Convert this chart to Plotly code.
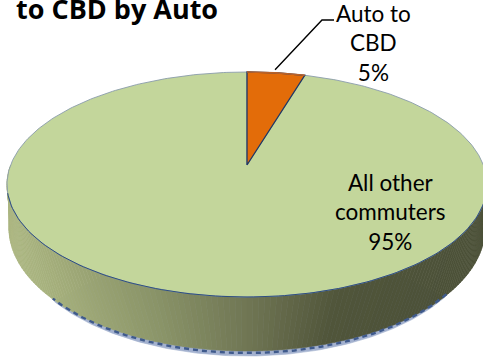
import math
import plotly.graph_objects as go

categories = ["Auto to<br>CBD", "All other<br>commuters"]
values = [4.6, 95.4]
slice_colors = ["#e36c09", "#c3d69b"]
title_text = "<b>to CBD by Auto</b>"

W, H = 483, 358
CX = 247
APEX_Y, FAR_Y, NEAR_Y = 165, 72, 297
HALF_W = 240
# projective map of the unit disc to the screen
c = (FAR_Y + NEAR_Y - 2 * APEX_Y) / (NEAR_Y - FAR_Y)
a = FAR_Y * (1 + c) - APEX_Y
d = HALF_W * math.sqrt(1 - c * c)


def project(theta):
    x, z = math.sin(theta), math.cos(theta)
    w = 1 + c * z
    return CX + d * x / w, (a * z + APEX_Y) / w


def wedge(start, end, n=180):
    pts = [(CX, APEX_Y)]
    for i in range(n + 1):
        pts.append(project(start + (end - start) * i / n))
    pts.append((CX, APEX_Y))
    return [p[0] for p in pts], [p[1] for p in pts]


def lerp_color(x):
    stops = [(5, (172, 183, 130)), (60, (160, 170, 120)), (150, (138, 148, 104)),
             (250, (111, 117, 83)), (340, (80, 85, 58)), (490, (75, 80, 56))]
    for (x0, c0), (x1, c1) in zip(stops, stops[1:]):
        if x <= x1:
            t = (x - x0) / (x1 - x0)
            rgb = [round(u + (v - u) * t) for u, v in zip(c0, c1)]
            return "rgb(%d,%d,%d)" % tuple(rgb)
    return "rgb(75,80,56)"


BOT_CY, BOT_RY = 228, 123


def bottom(theta, rx=HALF_W - 2, shift=0):
    return CX + rx * math.sin(theta), BOT_CY + shift - BOT_RY * math.cos(theta)


fig = go.Figure()


def add_poly(xs, ys, fill, line=None, width=0):
    fig.add_trace(go.Scatter(
        x=xs, y=ys, mode="lines", fill="toself", fillcolor=fill,
        line=dict(color=line or fill, width=width if line else 0.6),
        hoverinfo="skip", showlegend=False))


# blue under-shadow
arc = [math.pi / 2 + 0.55 + 2.0 * i / 120 for i in range(121)]
sx = [bottom(t, rx=HALF_W - 8, shift=5)[0] for t in arc]
sy = [bottom(t, rx=HALF_W - 8, shift=5)[1] for t in arc]
add_poly(sx + [CX], sy + [200], "#a3b1cf")

# wall strips
N = 150
for i in range(N):
    t0 = math.pi / 2 + math.pi * i / N
    t1 = math.pi / 2 + math.pi * (i + 1) / N
    p0, p1 = project(t0), project(t1)
    b0, b1 = bottom(t0), bottom(t1)
    add_poly([p0[0], p1[0], b1[0], b0[0], p0[0]],
             [p0[1], p1[1], b1[1], b0[1], p0[1]],
             lerp_color((p0[0] + p1[0]) / 2))

# jagged dark rim under the wall
ex = [bottom(t, rx=HALF_W - 6, shift=2)[0] for t in arc]
ey = [bottom(t, rx=HALF_W - 6, shift=2)[1] for t in arc]
fig.add_trace(go.Scatter(x=ex, y=ey, mode="lines",
                         line=dict(color="#3f5a8c", width=2.4, dash="5px,4px"),
                         hoverinfo="skip", showlegend=False))

# top face, from the values
total = sum(values)
auto_end = 2 * math.pi * values[0] / total
xs, ys = wedge(auto_end, 2 * math.pi, 360)
add_poly(xs, ys, slice_colors[1], "#8a9cab", 0.9)
xs, ys = wedge(math.pi / 2 + 0.25, 3 * math.pi / 2 - 0.25, 120)
fig.add_trace(go.Scatter(x=xs[1:-1], y=ys[1:-1], mode="lines",
                         line=dict(color="#2f4f7f", width=1),
                         hoverinfo="skip", showlegend=False))
xs, ys = wedge(0, auto_end, 40)
add_poly(xs, ys, slice_colors[0], "#1f3864", 1.3)
fig.add_trace(go.Scatter(x=xs[1:-1], y=ys[1:-1], mode="lines",
                         line=dict(color="#b9622a", width=1.6),
                         hoverinfo="skip", showlegend=False))

# leader line, anchored to the middle of the small slice
mx, my = project(auto_end / 2)
fig.add_trace(go.Scatter(x=[mx - 1, 322, 334], y=[my - 3, 20, 20], mode="lines",
                         line=dict(color="#000000", width=1.4),
                         hoverinfo="skip", showlegend=False))

font = "Lato, Carlito, Calibri, sans-serif"
pct = [f"{round(v / total * 100)}%" for v in values]
fig.add_annotation(x=373, y=43, text=f"{categories[0]}<br>{pct[0]}", showarrow=False,
                   font=dict(family=font, size=22.5, color="#000000"), align="center",
                   xanchor="center", yanchor="middle", xref="x", yref="y")
fig.add_annotation(x=390, y=212, text=f"{categories[1]}<br>{pct[1]}", showarrow=False,
                   font=dict(family=font, size=22.5, color="#000000"), align="center",
                   xanchor="center", yanchor="middle", xref="x", yref="y")
fig.add_annotation(x=14, y=8, text=title_text, showarrow=False,
                   font=dict(family="Open Sans, Lato, sans-serif", size=27, color="#000000"),
                   xanchor="left", yanchor="middle", xref="x", yref="y")

fig.update_layout(
    width=W, height=H, margin=dict(l=0, r=0, t=0, b=0),
    paper_bgcolor="#ffffff", plot_bgcolor="#ffffff", showlegend=False,
    xaxis=dict(range=[0, W], visible=False, fixedrange=True),
    yaxis=dict(range=[H, 0], visible=False, fixedrange=True),
)
fig.write_html("out.html", config={"displayModeBar": False},
               post_script="document.body.style.margin='0';document.documentElement.style.overflow='hidden';")
